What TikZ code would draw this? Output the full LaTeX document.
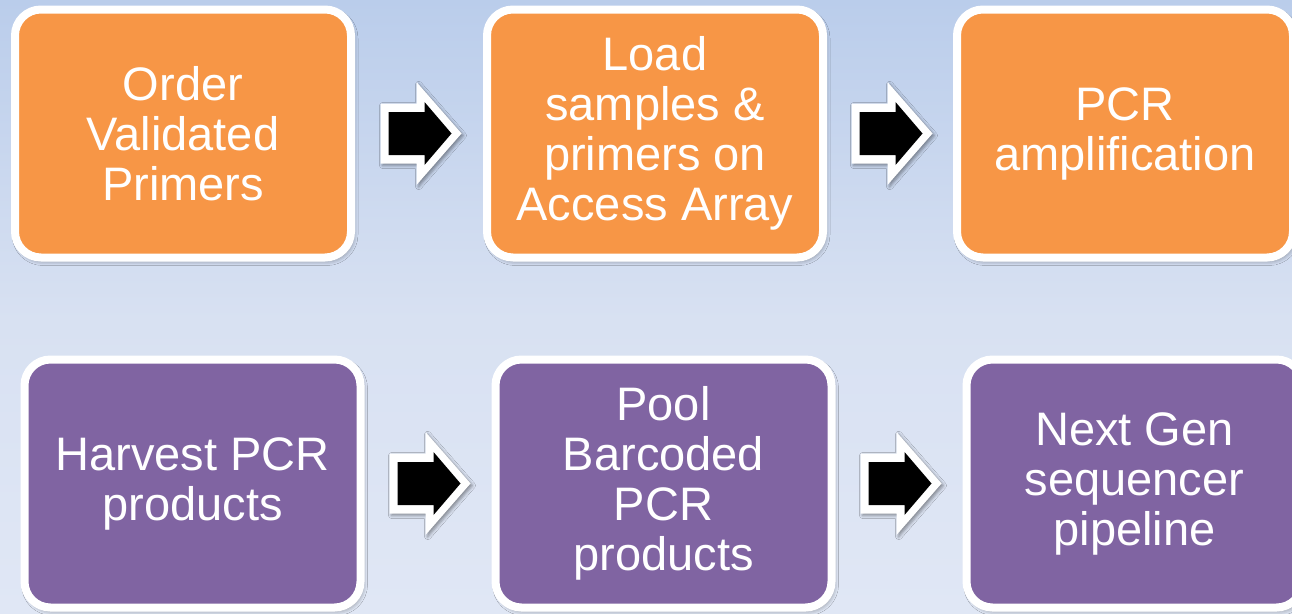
\documentclass[tikz,border=0pt]{standalone}
\usepackage{fontspec}
\setmainfont{Liberation Sans}
\usetikzlibrary{calc,shadows.blur}

\definecolor{stepOrange}{RGB}{247,150,70}
\definecolor{stepPurple}{RGB}{128,100,162}
\definecolor{bgTop}{RGB}{186,205,235}
\definecolor{bgMid}{RGB}{216,225,242}
\definecolor{bgBottom}{RGB}{224,231,245}

\tikzset{
  softshadow/.style={blur shadow={shadow xshift=2pt, shadow yshift=-3pt,
      shadow blur radius=5pt, shadow opacity=45}},
  stepbox/.style={rectangle, rounded corners=26pt, draw=white, line width=8pt,
      minimum width=336pt, minimum height=248pt, inner sep=0pt,
      text=white, align=center, font=\fontsize{47}{50}\selectfont, softshadow},
  orangebox/.style={stepbox, fill=stepOrange},
  purplebox/.style={stepbox, fill=stepPurple},
  pics/blockarrow/.style={code={
    % white outline shape, then the black arrow inside it
    \fill[white, blur shadow={shadow xshift=2pt, shadow yshift=-2pt,
        shadow blur radius=3pt, shadow opacity=40}]
      (-40.5,-30) -- (-4.5,-30) -- (-4.5,-51.5) -- (40.5,0)
      -- (-4.5,51.5) -- (-4.5,30) -- (-40.5,30) -- cycle;
    \fill[black]
      (-32.5,-21.5) -- (3.5,-21.5) -- (3.5,-31.5) -- (30.5,0)
      -- (3.5,31.5) -- (3.5,21.5) -- (-32.5,21.5) -- cycle;
  }},
}

\begin{document}
\begin{tikzpicture}[x=1pt, y=-1pt]
  \useasboundingbox (0,0) rectangle (1292,613);
  \clip (0,0) rectangle (1292,613);

  % background gradient
  \shade[top color=bgTop, bottom color=bgMid] (0,0) rectangle (1292,320);
  \shade[top color=bgMid, bottom color=bgBottom] (0,320) rectangle (1292,613);

  % first row
  \node[orangebox] (order) at (183,133.5)    {Order\\Validated\\Primers};
  \node[orangebox] (load)  at (655,133.5)    {Load\\samples \&\\primers on\\Access Array};
  \node[orangebox] (pcr)   at (1125,133.5)   {PCR\\amplification};

  % second row
  \node[purplebox] (harvest) at (192.5,483.5)  {Harvest PCR\\products};
  \node[purplebox] (pool)    at (663.5,483.5)  {Pool\\Barcoded\\PCR\\products};
  \node[purplebox] (ngs)     at (1134.5,483.5) {Next Gen\\sequencer\\pipeline};

  % block arrows between the steps
  \coordinate (a1) at ($(order.east)!0.5!(load.west)$);
  \coordinate (a2) at ($(load.east)!0.5!(pcr.west)$);
  \coordinate (a3) at ($(harvest.east)!0.5!(pool.west)$);
  \coordinate (a4) at ($(pool.east)!0.5!(ngs.west)$);
  \pic at ([xshift=2pt]a1) {blockarrow};
  \pic at ([xshift=2pt]a2) {blockarrow};
  \pic at ([xshift=2pt]a3) {blockarrow};
  \pic at ([xshift=2pt]a4) {blockarrow};
\end{tikzpicture}
\end{document}
